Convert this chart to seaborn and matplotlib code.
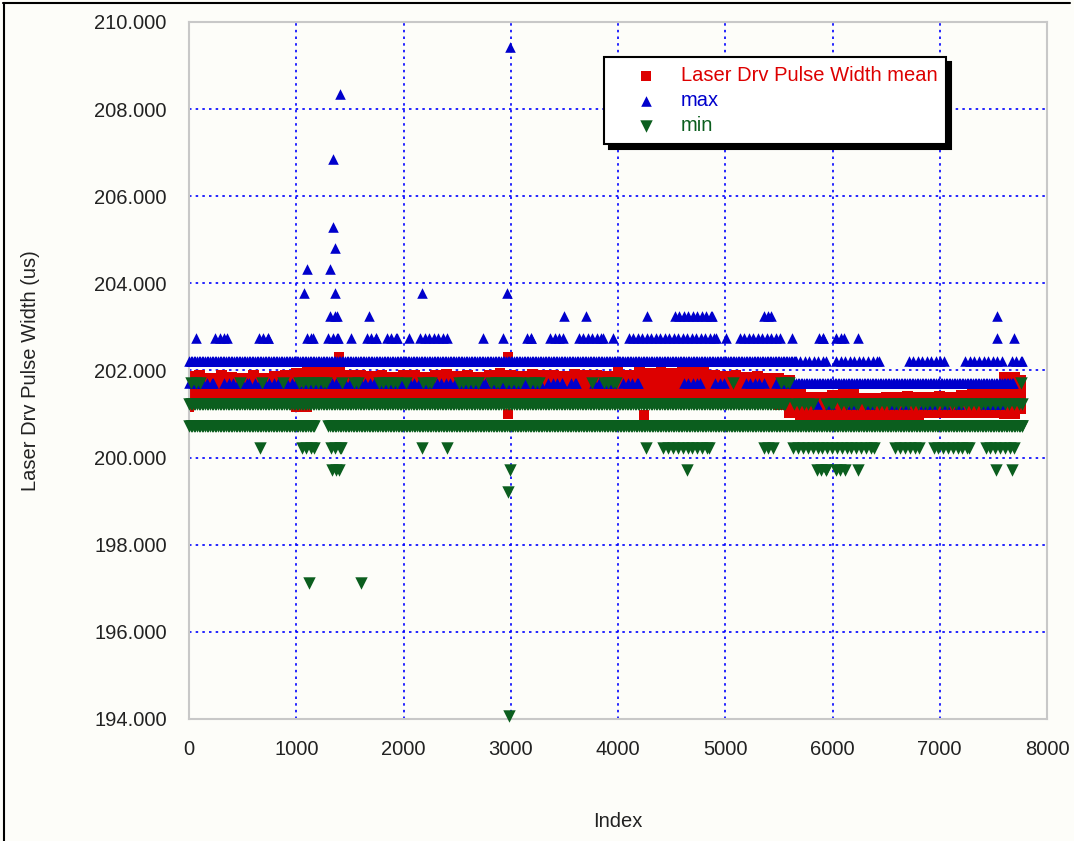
import numpy as np
import pandas as pd
import matplotlib
matplotlib.use("Agg")
import matplotlib.pyplot as plt
import seaborn as sns
from matplotlib.lines import Line2D
from matplotlib.ticker import FormatStrFormatter

# ---- values ----
# runs of one quantised level: (first index, last index, value)
# dense runs -> solid bands, other runs -> clusters / single markers
max_dense_runs = [
    (0, 5660, 202.22),
    (5630, 7680, 201.72),
]
max_runs = [
    (5700, 5944, 202.22), (6037, 6438, 202.22), (6709, 7044, 202.22),
    (7240, 7576, 202.22), (7669, 7770, 202.22),
    (0, 220, 201.72), (330, 560, 201.72), (620, 1000, 201.72),
    (1080, 1500, 201.72), (1560, 2000, 201.72), (2060, 2500, 201.72),
    (2560, 2760, 201.72), (2840, 3270, 201.72),
    (3350, 3480, 201.72), (3560, 3610, 201.72), (3780, 3940, 201.72),
    (4051, 4191, 201.72), (4611, 4760, 201.72), (4909, 4984, 201.72),
    (5189, 5357, 201.72), (5469, 5590, 201.72),
    (5860, 5860, 201.22), (5977, 5977, 201.22), (6182, 6182, 201.22),
    (6350, 6350, 201.22), (6560, 6560, 201.22), (6680, 6680, 201.22),
    (6850, 6850, 201.22), (6930, 6930, 201.22), (7050, 7050, 201.22),
    (7180, 7180, 201.22), (7420, 7420, 201.22), (7480, 7560, 201.22),
    (65, 65, 202.75), (245, 350, 202.75), (648, 737, 202.75),
    (1100, 1156, 202.75), (1300, 1390, 202.75), (1510, 1510, 202.75),
    (1655, 1748, 202.75), (1842, 1935, 202.75), (2051, 2051, 202.75),
    (2154, 2401, 202.75), (2741, 2741, 202.75), (2928, 2928, 202.75),
    (3150, 3193, 202.75), (3366, 3487, 202.75), (3632, 3860, 202.75),
    (3953, 3953, 202.75), (4098, 4918, 202.75), (5007, 5007, 202.75),
    (5137, 5506, 202.75), (5622, 5622, 202.75), (5870, 5916, 202.75),
    (6037, 6103, 202.75), (6238, 6238, 202.75), (7531, 7531, 202.75),
    (7692, 7692, 202.75),
    (1316, 1376, 203.25), (1680, 1680, 203.25), (3497, 3497, 203.25),
    (3700, 3700, 203.25), (4267, 4267, 203.25), (4530, 4872, 203.25),
    (5357, 5431, 203.25), (7534, 7534, 203.25),
    (1072, 1072, 203.78), (1361, 1361, 203.78), (2170, 2170, 203.78),
    (2965, 2965, 203.78),
    (1097, 1097, 204.33), (1315, 1315, 204.33),
    (1361, 1361, 204.81), (1343, 1343, 205.30), (1343, 1343, 206.85),
    (1408, 1408, 208.35), (2993, 2993, 209.43),
]

min_dense_runs = [
    (0, 5560, 201.22),
    (0, 1170, 200.72), (1300, 7770, 200.72),
]
min_runs = [
    (23, 98, 201.72), (475, 475, 201.72), (680, 680, 201.72),
    (872, 872, 201.72), (1021, 1282, 201.72), (1427, 1427, 201.72),
    (1534, 1576, 201.72), (1767, 1935, 201.72), (2019, 2019, 201.72),
    (2186, 2261, 201.72), (2513, 2699, 201.72), (2820, 2886, 201.72),
    (2960, 3082, 201.72), (3184, 3259, 201.72), (3762, 3762, 201.72),
    (3865, 3986, 201.72), (5068, 5068, 201.72), (5524, 5590, 201.72),
    (7760, 7760, 201.72),
    (5640, 5820, 201.22), (5940, 6000, 201.22), (6080, 6240, 201.22),
    (6300, 7770, 201.22),
    (660, 660, 200.22), (1050, 1166, 200.22), (1320, 1420, 200.22),
    (2175, 2175, 200.22), (2405, 2405, 200.22), (4261, 4261, 200.22),
    (4424, 4844, 200.22), (5357, 5445, 200.22), (5636, 6383, 200.22),
    (6587, 6811, 200.22), (6942, 7277, 200.22), (7427, 7688, 200.22),
    (1329, 1403, 199.72), (2993, 2993, 199.72), (4648, 4648, 199.72),
    (5851, 5944, 199.72), (6028, 6112, 199.72), (6242, 6242, 199.72),
    (7525, 7525, 199.72), (7678, 7678, 199.72),
    (2974, 2974, 199.20),
    (1119, 1119, 197.12), (1604, 1604, 197.12),
    (2984, 2984, 194.07),
]

# mean: upper / lower edge of the red band, every 100 samples
mean_idx = list(range(0, 7900, 100))
mean_top = [
    201.98, 202.00, 201.95, 202.00, 201.97, 201.95, 202.02, 201.95, 201.98, 202.00,
    202.05, 202.08, 202.10, 202.10, 202.08, 202.00, 202.02, 201.98, 202.00, 201.97,
    202.00, 202.02, 201.97, 202.00, 202.03, 201.98, 202.00, 201.97, 202.02, 202.05,
    202.00, 201.98, 202.03, 202.00, 202.02, 201.98, 202.03, 202.00, 202.02, 201.98,
    202.12, 202.00, 202.12, 202.05, 202.08, 202.05, 202.12, 202.12, 202.10, 202.00,
    201.98, 202.00, 201.97, 201.98, 201.95, 201.95, 201.90, 201.65, 201.50, 201.50,
    201.55, 201.67, 201.67, 201.48, 201.48, 201.50, 201.50, 201.52, 201.50, 201.50,
    201.52, 201.50, 201.55, 201.60, 201.60, 201.62, 201.97, 201.97, 201.90,
]
mean_bottom = [
    201.05, 201.15, 201.15, 201.15, 201.15, 201.15, 201.15, 201.15, 201.15, 201.15,
    201.05, 201.05, 201.15, 201.15, 201.15, 201.15, 201.15, 201.15, 201.15, 201.15,
    201.15, 201.15, 201.15, 201.15, 201.15, 201.15, 201.15, 201.15, 201.15, 201.15,
    201.15, 201.15, 201.15, 201.15, 201.15, 201.15, 201.15, 201.15, 201.15, 201.15,
    201.15, 201.15, 201.15, 201.15, 201.15, 201.15, 201.15, 201.15, 201.15, 201.15,
    201.15, 201.15, 201.15, 201.15, 201.15, 201.10, 200.90, 200.87, 200.87, 200.87,
    200.87, 200.87, 200.87, 200.87, 200.87, 200.87, 200.87, 200.87, 200.87, 200.92,
    200.92, 200.92, 200.92, 200.92, 200.92, 200.92, 200.88, 200.88, 201.00,
]
# single mean samples sticking out of the band
mean_spike_idx = [1399, 2970, 2979, 4243]
mean_spike_val = [202.31, 202.31, 201.01, 200.97]

x_ticks = list(range(0, 9000, 1000))
y_ticks = list(range(194, 212, 2))


def expand(runs, step):
    rows = []
    for a, b, v in runs:
        for i in range(a, b + 1, step):
            rows.append((i, v))
        if (b - a) % step:
            rows.append((b, v))
    return pd.DataFrame(rows, columns=["Index", "value"])


df_max = pd.concat([expand(max_dense_runs, 15), expand(max_runs, 42)])
df_min = pd.concat([expand(min_dense_runs, 15), expand(min_runs, 45)])
df_spk = pd.DataFrame({"Index": mean_spike_idx, "value": mean_spike_val})

red = "#dd0000"
blue = "#0000cc"
green = "#0b5e1e"
bg = "#fdfdf9"

sns.set_style("white")
plt.rcParams["font.family"] = ["Liberation Sans", "DejaVu Sans"]

fig = plt.figure(figsize=(10.74, 8.41), dpi=100, facecolor=bg)
ax = fig.add_axes([0.17598, 0.14507, 0.79888, 0.82878])
ax.set_facecolor(bg)

# mean band
band = ax.fill_between(mean_idx, mean_bottom, mean_top, step="mid",
                       color=red, linewidth=0, zorder=2)
band.set_clip_on(False)
sns.scatterplot(data=df_spk, x="Index", y="value", marker="s", s=42,
                color=red, linewidth=0, ax=ax, zorder=2, clip_on=False,
                label="Laser Drv Pulse Width mean")
sns.scatterplot(data=df_max, x="Index", y="value", marker="^", s=58,
                color=blue, linewidth=0, ax=ax, zorder=3, clip_on=False,
                label="max")
sns.scatterplot(data=df_min, x="Index", y="value", marker="v", s=80,
                color=green, linewidth=0, ax=ax, zorder=4, clip_on=False,
                label="min")

ax.set_xlim(0, 8000)
ax.set_ylim(194, 210)
ax.set_xticks(x_ticks)
ax.set_yticks(y_ticks)
ax.yaxis.set_major_formatter(FormatStrFormatter("%.3f"))
ax.tick_params(direction="in", length=8, width=1, color="#c0c0c0",
               labelsize=14.5, labelcolor="#222222")
ax.tick_params(axis="y", pad=16)
ax.tick_params(axis="x", pad=15)
for sp in ax.spines.values():
    sp.set_color("#c8c8c8")
    sp.set_linewidth(1.5)
ax.set_axisbelow(True)
ax.grid(True, color="#0000ff", linestyle=(0, (1.5, 2.5)), linewidth=1.2)

ax.set_xlabel("Index", fontsize=14.5, color="#222222")
ax.set_ylabel("Laser Drv Pulse Width (us)", fontsize=14.5, color="#222222")
ax.xaxis.set_label_coords(0.5, -0.133)
ax.yaxis.set_label_coords(-0.174, 0.5)

handles, labels = ax.get_legend_handles_labels()
leg = ax.legend(handles, labels, loc="upper left", bbox_to_anchor=(0.484, 0.950),
                borderaxespad=0, frameon=True, fancybox=False, edgecolor="black",
                facecolor="white", framealpha=1,
                shadow={"ox": 3.5, "oy": -3.5, "color": "black", "alpha": 1},
                fontsize=14.5, labelcolor=[red, blue, green], handlelength=3.2,
                handletextpad=0.15, labelspacing=0.3, borderpad=0.45,
                scatterpoints=1)
leg.get_frame().set_linewidth(1.5)
leg.set_zorder(10)

# outer frame of the picture (top and left edges)
fig.add_artist(Line2D([0.003, 0.9965], [0.997, 0.997], transform=fig.transFigure,
                      color="black", linewidth=1.5))
fig.add_artist(Line2D([0.004, 0.004], [0.0, 0.997], transform=fig.transFigure,
                      color="black", linewidth=1.5))

fig.savefig("out.png", dpi=100, facecolor=bg)
